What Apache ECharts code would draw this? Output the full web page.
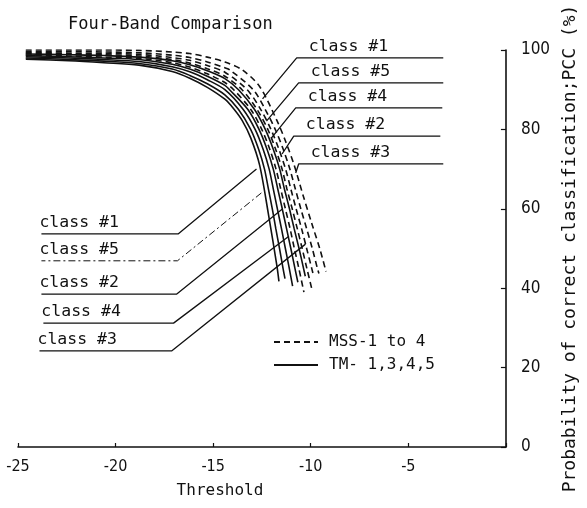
<!DOCTYPE html>
<html>
<head>
<meta charset="utf-8">
<script src="https://cdn.jsdelivr.net/npm/echarts@6/dist/echarts.min.js"></script>
<style>
  html, body { margin: 0; padding: 0; background: #fff; }
  #chart { width: 587px; height: 508px; }
</style>
</head>
<body>
<div id="chart"></div>
<script>
// Axis ticks
const thresholdTicks = [-25, -20, -15, -10, -5, 0];
const pccTicks = [0, 20, 40, 60, 80, 100];

// PCC (%) versus threshold, TM bands 1,3,4,5 (solid curves)
const tmClass1 = [[-24.6,97.7],[-22.4,97.3],[-20.6,96.8],[-18.8,96.2],[-17.1,94.6],[-16.2,92.9],[-15.3,90.6],[-14.4,87.6],[-13.95,85.2],[-13.51,82.2],[-13.07,77.8],[-12.62,71.0],[-12.18,59.0],[-11.73,45.5],[-11.63,41.7]];
const tmClass5 = [[-24.6,98.0],[-22.4,97.6],[-20.6,97.2],[-18.8,96.6],[-17.1,95.2],[-16.2,93.6],[-15.3,91.5],[-14.4,88.7],[-13.70,85],[-13.08,80],[-12.67,75],[-12.37,70],[-12.17,65],[-11.97,60],[-11.79,55],[-11.60,50],[-11.42,45],[-11.32,42.4]];
const tmClass2 = [[-24.6,98.3],[-22.4,98.0],[-20.6,97.6],[-18.8,97.1],[-17.1,95.8],[-16.2,94.5],[-15.3,92.5],[-14.4,90.0],[-13.46,85],[-12.85,80],[-12.44,75],[-12.13,70],[-11.92,65],[-11.71,60],[-11.50,55],[-11.30,50],[-11.10,45],[-10.93,40.5]];
const tmClass4 = [[-24.6,98.6],[-22.4,98.3],[-20.6,98.0],[-18.8,97.6],[-17.1,96.4],[-16.2,95.2],[-15.3,93.4],[-14.4,91.1],[-14.16,90],[-13.22,85],[-12.65,80],[-12.24,75],[-11.92,70],[-11.69,65],[-11.46,60],[-11.24,55],[-11.02,50],[-10.81,45],[-10.66,41.5]];
const tmClass3 = [[-24.6,99.0],[-22.4,98.8],[-20.6,98.6],[-18.8,98.2],[-17.1,97.3],[-16.2,96.3],[-15.3,94.8],[-14.4,92.8],[-13.70,90],[-12.88,85],[-12.33,80],[-11.92,75],[-11.59,70],[-11.35,65],[-11.09,60],[-10.85,55],[-10.60,50],[-10.37,45],[-10.28,43]];

// PCC (%) versus threshold, MSS bands 1 to 4 (dashed curves)
const mssClass1 = [[-24.6,98.7],[-22.4,98.5],[-20.6,98.2],[-18.8,97.9],[-17.1,96.8],[-16.2,95.7],[-15.3,94.0],[-14.4,91.8],[-13.95,90],[-13.07,85],[-12.51,80],[-12.10,75],[-11.78,70],[-11.54,65],[-11.30,60],[-11.06,55],[-10.84,50],[-10.61,45],[-10.35,39]];
const mssClass5 = [[-24.6,99.1],[-22.4,99.0],[-20.6,98.8],[-18.8,98.5],[-17.1,97.6],[-16.2,96.7],[-15.3,95.3],[-14.4,93.4],[-13.52,90],[-12.75,85],[-12.20,80],[-11.80,75],[-11.47,70],[-11.22,65],[-10.95,60],[-10.69,55],[-10.44,50],[-10.20,45],[-9.93,39.5]];
const mssClass4 = [[-24.6,99.4],[-22.4,99.2],[-20.6,99.1],[-18.8,98.9],[-17.1,98.1],[-16.2,97.4],[-15.3,96.1],[-14.4,94.4],[-13.26,90],[-12.56,85],[-12.04,80],[-11.63,75],[-11.29,70],[-11.02,65],[-10.75,60],[-10.47,55],[-10.21,50],[-9.95,45],[-9.85,43]];
const mssClass2 = [[-24.6,99.6],[-22.4,99.6],[-20.6,99.5],[-18.8,99.3],[-17.1,98.7],[-16.2,98.1],[-15.3,97.0],[-14.4,95.5],[-14.15,95],[-12.95,90],[-12.33,85],[-11.82,80],[-11.41,75],[-11.07,70],[-10.79,65],[-10.51,60],[-10.21,55],[-9.92,50],[-9.66,45],[-9.58,43.7]];
const mssClass3 = [[-24.6,100],[-22.4,100],[-20.6,100],[-18.8,99.9],[-17.1,99.5],[-16.2,99.1],[-15.3,98.2],[-14.4,97.0],[-13.51,95.0],[-12.62,90.8],[-11.73,82.2],[-11.29,77.0],[-10.85,71.0],[-10.40,63.5],[-9.96,56.5],[-9.51,49.5],[-9.22,44.2]];

const TM_NAME = 'TM- 1,3,4,5';
const MSS_NAME = 'MSS-1 to 4';

// Class callouts: text, leader tip on the curve, underline start and end (threshold, PCC units)
const tmCallouts = [
  { text: 'class #1', tip: [-12.78, 70.0], from: [-16.78, 53.7], to: [-23.80, 53.7] },
  { text: 'class #5', tip: [-12.53, 64.0], from: [-16.83, 46.9], to: [-23.80, 46.9], dotted: true },
  { text: 'class #2', tip: [-11.47, 59.9], from: [-16.88, 38.5], to: [-23.80, 38.5] },
  { text: 'class #4', tip: [-11.12, 53.1], from: [-17.03, 31.2], to: [-23.70, 31.2] },
  { text: 'class #3', tip: [-10.27, 51.1], from: [-17.13, 24.2], to: [-23.90, 24.2] }
];
const mssCallouts = [
  { text: 'class #1', tip: [-12.47, 87.7], from: [-10.72, 98.0], to: [-3.21, 98.0] },
  { text: 'class #5', tip: [-12.27, 82.1], from: [-10.62, 91.7], to: [-3.21, 91.7] },
  { text: 'class #4', tip: [-12.02, 77.8], from: [-10.77, 85.4], to: [-3.26, 85.4] },
  { text: 'class #2', tip: [-11.47, 73.8], from: [-10.87, 78.3], to: [-3.36, 78.3] },
  { text: 'class #3', tip: [-10.77, 69.0], from: [-10.62, 71.3], to: [-3.21, 71.3] }
];

const MONO = '"DejaVu Sans Mono", "Liberation Mono", monospace';
const NUM = '"Liberation Sans Narrow", "DejaVu Sans Condensed", "Liberation Sans", sans-serif';

const curves = [
  { name: TM_NAME, data: tmClass1, dashed: false },
  { name: TM_NAME, data: tmClass5, dashed: false },
  { name: TM_NAME, data: tmClass2, dashed: false },
  { name: TM_NAME, data: tmClass4, dashed: false },
  { name: TM_NAME, data: tmClass3, dashed: false },
  { name: MSS_NAME, data: mssClass1, dashed: true },
  { name: MSS_NAME, data: mssClass5, dashed: true },
  { name: MSS_NAME, data: mssClass4, dashed: true },
  { name: MSS_NAME, data: mssClass2, dashed: true },
  { name: MSS_NAME, data: mssClass3, dashed: true }
];

const curveSeries = curves.map(c => ({
  type: 'line',
  name: c.name,
  data: c.data,
  smooth: 0.3,
  symbol: 'none',
  silent: true,
  lineStyle: { color: '#111', width: 1.6, type: c.dashed ? [6, 4] : 'solid' },
  itemStyle: { color: '#111' },
  z: 3
}));

const calloutSeries = tmCallouts.concat(mssCallouts).map((c, i) => ({
  type: 'line',
  id: 'callout' + i,
  data: [c.tip, c.from, c.to],
  symbol: 'none',
  silent: true,
  smooth: false,
  lineStyle: { color: '#111', width: c.dotted ? 1 : 1.3, type: c.dotted ? [7, 3, 2, 3] : 'solid' },
  z: 2
}));

const chart = echarts.init(document.getElementById('chart'), null, { renderer: 'canvas' });

chart.setOption({
  animation: false,
  backgroundColor: '#fff',
  title: {
    text: 'Four-Band Comparison',
    left: 63, top: 11,
    textStyle: { fontFamily: MONO, fontSize: 17, fontWeight: 'normal', color: '#111' }
  },
  legend: {
    data: [MSS_NAME, TM_NAME],
    orient: 'vertical',
    left: 268, top: 329,
    itemWidth: 44, itemHeight: 14, itemGap: 7,
    selectedMode: false,
    itemStyle: { opacity: 0, borderWidth: 0 },
    textStyle: { fontFamily: MONO, fontSize: 16, color: '#111', padding: [0, 0, 0, 6] }
  },
  grid: { left: 18, right: 70, top: 50, bottom: 61, containLabel: false },
  xAxis: {
    type: 'value',
    min: thresholdTicks[0], max: thresholdTicks[thresholdTicks.length - 1], interval: 5,
    name: 'Threshold',
    nameLocation: 'middle',
    nameGap: 36,
    nameTextStyle: { fontFamily: MONO, fontSize: 16, color: '#111', padding: [0, 84, 0, 0] },
    axisLine: { show: true, onZero: false, lineStyle: { color: '#111', width: 1.6 } },
    axisTick: { show: true, inside: true, length: 4, lineStyle: { color: '#111', width: 1.2 } },
    axisLabel: {
      margin: 12, fontFamily: NUM, fontSize: 16, color: '#111',
      formatter: v => (v === 0 ? '' : String(v))
    },
    splitLine: { show: false }
  },
  yAxis: {
    type: 'value',
    position: 'right',
    min: pccTicks[0], max: pccTicks[pccTicks.length - 1], interval: 20,
    name: 'Probability of correct classification;PCC (%)',
    nameLocation: 'middle',
    nameGap: 50,
    nameTextStyle: { fontFamily: MONO, fontSize: 18, color: '#111' },
    axisLine: { show: true, lineStyle: { color: '#111', width: 1.6 } },
    axisTick: { show: true, inside: true, length: 5, lineStyle: { color: '#111', width: 1.2 } },
    axisLabel: { margin: 15, fontFamily: NUM, fontSize: 17, color: '#111' },
    splitLine: { show: false }
  },
  series: curveSeries.concat(calloutSeries)
});

// Callout captions sit just above each underline
function placeCaptions() {
  const items = [];
  tmCallouts.forEach(c => {
    const p = chart.convertToPixel({ gridIndex: 0 }, c.to);
    items.push({ type: 'text', x: p[0] - 2, y: p[1] - 3,
      style: { text: c.text, font: '16.5px ' + MONO, fill: '#111', textAlign: 'left', textVerticalAlign: 'bottom' }, z: 10 });
  });
  mssCallouts.forEach(c => {
    const p = chart.convertToPixel({ gridIndex: 0 }, c.from);
    items.push({ type: 'text', x: p[0] + 12, y: p[1] - 3,
      style: { text: c.text, font: '16.5px ' + MONO, fill: '#111', textAlign: 'left', textVerticalAlign: 'bottom' }, z: 10 });
  });
  chart.setOption({ graphic: items });
}
placeCaptions();
</script>
</body>
</html>
